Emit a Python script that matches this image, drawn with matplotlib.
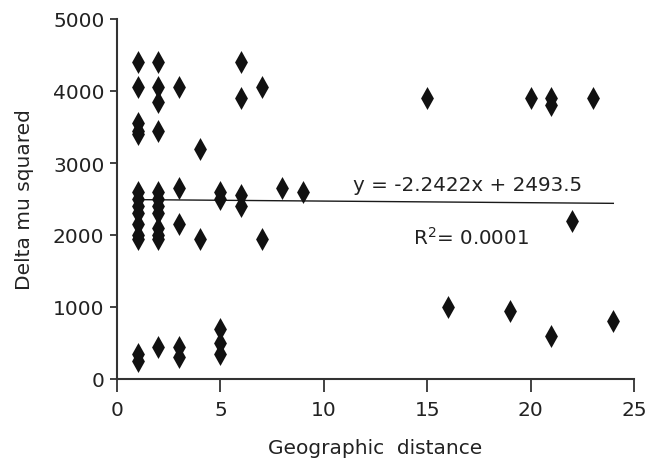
import matplotlib
matplotlib.use("Agg")
import matplotlib.pyplot as plt
import numpy as np

plt.rcParams['font.family'] = ['DejaVu Sans']

# Data
distance = [1]*14 + [2]*12 + [3]*5 + [4]*2 + [5]*5 + [6]*4 + [7]*2 + [8, 9, 15, 16, 19, 20] + [21]*3 + [22, 23, 24]
delta_mu2 = [4400, 4050, 3550, 3450, 3400, 2600, 2500, 2400, 2300, 2150, 2000, 1950, 350, 250,
             4400, 4050, 3850, 3450, 2600, 2500, 2400, 2300, 2100, 2000, 1950, 450,
             4050, 2650, 2150, 450, 300,
             3200, 1950,
             2600, 2500, 700, 500, 350,
             4400, 3900, 2550, 2400,
             4050, 1950,
             2650, 2600, 3900, 1000, 950, 3900,
             3900, 3800, 600,
             2200, 3900, 800]
slope = -2.2422
intercept = 2493.5
eq_label = "y = -2.2422x + 2493.5"
r2_label = r"R$^{2}$= 0.0001"
x_ticks = [0, 5, 10, 15, 20, 25]
y_ticks = [0, 1000, 2000, 3000, 4000, 5000]

fig = plt.figure(figsize=(6.52, 4.6), dpi=100)
ax = fig.add_axes([117/652, 80/460, (634-117)/652, 360/460])

diamond = [(0, 1), (0.56, 0), (0, -1), (-0.56, 0), (0, 1)]
ax.scatter(distance, delta_mu2, marker=diamond, s=16.5**2, color='#111111', linewidths=0, zorder=3)

xl = np.array([min(distance), max(distance)])
ax.plot(xl, slope*xl + intercept, color='#1a1a1a', lw=1.0, zorder=2)

txt_color = '#222222'
ax.text(11.4, 2700, eq_label, fontsize=14.3, color=txt_color, ha='left', va='center')
ax.text(14.3, 1975, r2_label, fontsize=14.3, color=txt_color, ha='left', va='center')

ax.set_xlim(0, 25)
ax.set_ylim(0, 5000)
ax.set_xticks(x_ticks)
ax.set_yticks(y_ticks)
for s in ['top', 'right']:
    ax.spines[s].set_visible(False)
for s in ['left', 'bottom']:
    ax.spines[s].set_color('#333333')
    ax.spines[s].set_linewidth(1.5)
ax.tick_params(axis='x', direction='out', length=9, width=1.3, color='#333333', labelsize=14.5, pad=6, labelcolor=txt_color)
ax.tick_params(axis='y', direction='out', length=5, width=1.3, color='#333333', labelsize=14.5, pad=4, labelcolor=txt_color)
ax.set_xlabel("Geographic  distance", fontsize=14.5, color=txt_color, labelpad=14)
ax.set_ylabel("Delta mu squared", fontsize=14.5, color=txt_color, labelpad=14)

fig.savefig("out.png", dpi=100)
